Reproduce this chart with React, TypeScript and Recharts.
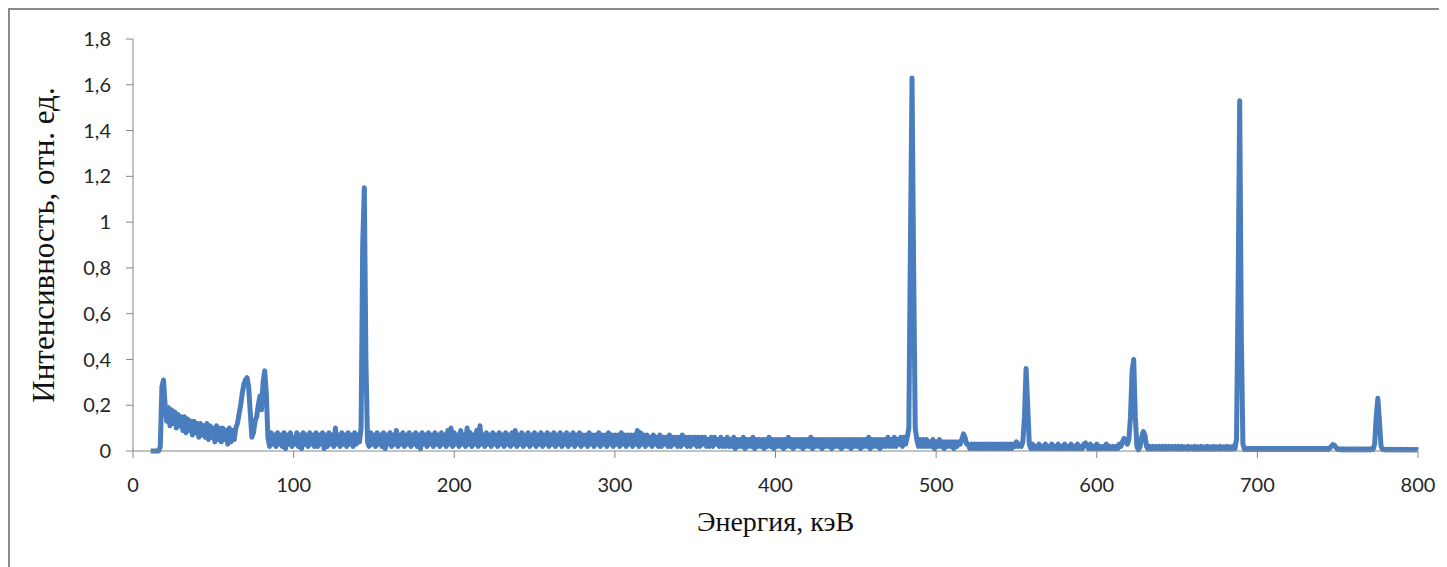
import { Label, Line, LineChart, XAxis, YAxis } from "recharts";

// spectrum sampled on a 1 keV grid starting at 11 keV
const energyStart = 11;
const energyStep = 1;

const intensity = [
  // 11-30
  0, 0, 0, 0, 0, 0, 0.02, 0.28, 0.31, 0.2, 0.13, 0.19, 0.11, 0.18, 0.12, 0.17, 0.1, 0.16, 0.11, 0.15,
  // 31-50
  0.09, 0.15, 0.08, 0.14, 0.09, 0.13, 0.07, 0.13, 0.08, 0.12, 0.06, 0.12, 0.07, 0.11, 0.06, 0.12, 0.05, 0.11, 0.06, 0.1,
  // 51-70
  0.04, 0.11, 0.05, 0.1, 0.04, 0.1, 0.05, 0.09, 0.03, 0.1, 0.04, 0.09, 0.05, 0.1, 0.12, 0.16, 0.2, 0.25, 0.29, 0.31,
  // 71-90
  0.32, 0.28, 0.17, 0.06, 0.08, 0.13, 0.15, 0.2, 0.24, 0.18, 0.3, 0.35, 0.25, 0.06, 0.02, 0.08, 0.03, 0.07, 0.02, 0.08,
  // 91-110
  0.03, 0.07, 0.02, 0.08, 0.01, 0.07, 0.03, 0.08, 0.02, 0.06, 0.03, 0.08, 0.02, 0.07, 0.01, 0.08, 0.03, 0.07, 0.02, 0.08,
  // 111-130
  0.03, 0.07, 0.02, 0.08, 0.02, 0.07, 0.03, 0.08, 0.01, 0.07, 0.02, 0.08, 0.03, 0.07, 0.02, 0.1, 0.03, 0.07, 0.02, 0.08,
  // 131-150
  0.03, 0.07, 0.02, 0.08, 0.03, 0.07, 0.02, 0.08, 0.03, 0.07, 0.04, 0.1, 0.9, 1.15, 0.4, 0.04, 0.02, 0.08, 0.03, 0.07,
  // 151-170
  0.02, 0.08, 0.03, 0.07, 0.02, 0.08, 0.01, 0.07, 0.03, 0.08, 0.02, 0.07, 0.03, 0.09, 0.02, 0.07, 0.03, 0.08, 0.02, 0.07,
  // 171-190
  0.03, 0.08, 0.02, 0.07, 0.03, 0.08, 0.02, 0.07, 0.01, 0.08, 0.03, 0.07, 0.02, 0.08, 0.03, 0.07, 0.02, 0.08, 0.03, 0.07,
  // 191-210
  0.02, 0.08, 0.03, 0.07, 0.02, 0.09, 0.03, 0.1, 0.02, 0.08, 0.03, 0.07, 0.02, 0.09, 0.03, 0.07, 0.02, 0.1, 0.03, 0.08,
  // 211-230
  0.02, 0.07, 0.03, 0.09, 0.02, 0.11, 0.03, 0.07, 0.02, 0.08, 0.03, 0.07, 0.02, 0.08, 0.03, 0.07, 0.02, 0.08, 0.03, 0.07,
  // 231-250
  0.02, 0.08, 0.03, 0.07, 0.02, 0.08, 0.03, 0.09, 0.02, 0.07, 0.03, 0.08, 0.02, 0.07, 0.03, 0.08, 0.02, 0.07, 0.03, 0.08,
  // 251-270
  0.02, 0.07, 0.03, 0.08, 0.02, 0.07, 0.03, 0.08, 0.02, 0.07, 0.03, 0.08, 0.02, 0.07, 0.03, 0.08, 0.02, 0.07, 0.03, 0.08,
  // 271-290
  0.02, 0.07, 0.03, 0.08, 0.02, 0.07, 0.03, 0.08, 0.02, 0.07, 0.03, 0.07, 0.02, 0.08, 0.03, 0.07, 0.02, 0.07, 0.03, 0.08,
  // 291-310
  0.02, 0.07, 0.03, 0.07, 0.02, 0.08, 0.03, 0.07, 0.02, 0.07, 0.03, 0.07, 0.02, 0.08, 0.03, 0.07, 0.02, 0.07, 0.03, 0.07,
  // 311-330
  0.02, 0.07, 0.03, 0.09, 0.02, 0.08, 0.03, 0.07, 0.02, 0.07, 0.03, 0.06, 0.02, 0.07, 0.03, 0.06, 0.02, 0.07, 0.02, 0.06,
  // 331-350
  0.03, 0.06, 0.02, 0.07, 0.02, 0.06, 0.03, 0.06, 0.02, 0.06, 0.02, 0.07, 0.03, 0.06, 0.02, 0.06, 0.02, 0.06, 0.03, 0.06,
  // 351-370
  0.02, 0.06, 0.02, 0.06, 0.03, 0.06, 0.02, 0.05, 0.02, 0.06, 0.02, 0.06, 0.03, 0.05, 0.02, 0.06, 0.02, 0.05, 0.02, 0.06,
  // 371-390
  0.02, 0.05, 0.02, 0.06, 0.01, 0.05, 0.02, 0.05, 0.02, 0.06, 0.01, 0.05, 0.02, 0.05, 0.02, 0.06, 0.01, 0.05, 0.02, 0.05,
  // 391-410
  0.02, 0.05, 0.01, 0.05, 0.02, 0.06, 0.02, 0.05, 0.01, 0.05, 0.02, 0.05, 0.02, 0.05, 0.01, 0.05, 0.02, 0.06, 0.02, 0.05,
  // 411-430
  0.01, 0.05, 0.02, 0.05, 0.02, 0.05, 0.01, 0.05, 0.02, 0.05, 0.02, 0.06, 0.01, 0.05, 0.02, 0.05, 0.02, 0.05, 0.01, 0.05,
  // 431-450
  0.02, 0.05, 0.02, 0.05, 0.01, 0.05, 0.02, 0.05, 0.02, 0.05, 0.01, 0.05, 0.02, 0.05, 0.02, 0.05, 0.01, 0.05, 0.02, 0.05,
  // 451-470
  0.02, 0.05, 0.01, 0.05, 0.02, 0.05, 0.02, 0.06, 0.01, 0.05, 0.02, 0.05, 0.02, 0.05, 0.01, 0.05, 0.02, 0.05, 0.02, 0.06,
  // 471-490
  0.02, 0.05, 0.02, 0.06, 0.02, 0.05, 0.03, 0.06, 0.02, 0.06, 0.03, 0.06, 0.1, 0.9, 1.63, 0.8, 0.1, 0.05, 0.02, 0.05,
  // 491-510
  0.02, 0.05, 0.02, 0.05, 0.02, 0.04, 0.02, 0.05, 0.01, 0.04, 0.02, 0.05, 0.02, 0.04, 0.01, 0.04, 0.02, 0.04, 0.02, 0.04,
  // 511-530
  0.01, 0.04, 0.02, 0.04, 0.03, 0.05, 0.075, 0.06, 0.03, 0.03, 0.01, 0.03, 0.01, 0.03, 0.01, 0.03, 0.01, 0.03, 0.01, 0.03,
  // 531-550
  0.01, 0.03, 0.01, 0.03, 0.01, 0.03, 0.01, 0.03, 0.01, 0.03, 0.01, 0.03, 0.01, 0.03, 0.01, 0.03, 0.01, 0.03, 0.02, 0.04,
  // 551-570
  0.02, 0.03, 0.02, 0.04, 0.15, 0.36, 0.2, 0.03, 0.01, 0.03, 0.01, 0.02, 0.01, 0.03, 0.01, 0.02, 0.01, 0.03, 0.01, 0.02,
  // 571-590
  0.01, 0.03, 0.01, 0.02, 0.01, 0.03, 0.01, 0.02, 0.01, 0.03, 0.01, 0.02, 0.01, 0.03, 0.01, 0.02, 0.01, 0.03, 0.01, 0.02,
  // 591-610
  0.01, 0.03, 0.035, 0.02, 0.01, 0.03, 0.01, 0.02, 0.01, 0.03, 0.01, 0.02, 0.01, 0.02, 0.01, 0.03, 0.01, 0.02, 0.01, 0.02,
  // 611-630
  0.01, 0.02, 0.01, 0.03, 0.02, 0.04, 0.055, 0.04, 0.03, 0.05, 0.15, 0.35, 0.4, 0.15, 0.02, 0.005, 0.02, 0.06, 0.085, 0.07,
  // 631-650
  0.02, 0.008, 0.02, 0.008, 0.02, 0.008, 0.02, 0.008, 0.02, 0.008, 0.02, 0.008, 0.02, 0.008, 0.02, 0.008, 0.02, 0.008, 0.02, 0.008,
  // 651-670
  0.02, 0.008, 0.02, 0.008, 0.018, 0.008, 0.02, 0.008, 0.018, 0.008, 0.02, 0.008, 0.018, 0.008, 0.02, 0.008, 0.018, 0.008, 0.02, 0.008,
  // 671-690
  0.018, 0.008, 0.02, 0.008, 0.018, 0.008, 0.02, 0.008, 0.018, 0.008, 0.02, 0.008, 0.018, 0.008, 0.02, 0.01, 0.05, 0.7, 1.53, 0.5,
  // 691-710
  0.03, 0.006, 0.012, 0.006, 0.012, 0.006, 0.012, 0.006, 0.012, 0.006, 0.012, 0.006, 0.012, 0.006, 0.012, 0.006, 0.012, 0.006, 0.012, 0.006,
  // 711-730
  0.012, 0.006, 0.012, 0.006, 0.012, 0.006, 0.012, 0.006, 0.012, 0.006, 0.012, 0.006, 0.012, 0.006, 0.012, 0.006, 0.012, 0.006, 0.012, 0.006,
  // 731-750
  0.012, 0.006, 0.012, 0.006, 0.012, 0.006, 0.012, 0.006, 0.012, 0.006, 0.012, 0.006, 0.012, 0.006, 0.012, 0.02, 0.028, 0.025, 0.015, 0.006,
  // 751-770
  0.01, 0.005, 0.01, 0.005, 0.01, 0.005, 0.01, 0.005, 0.01, 0.005, 0.01, 0.005, 0.01, 0.005, 0.01, 0.005, 0.01, 0.005, 0.01, 0.005,
  // 771-790
  0.01, 0.006, 0.03, 0.15, 0.23, 0.13, 0.02, 0.006, 0.008, 0.004, 0.008, 0.004, 0.008, 0.004, 0.008, 0.004, 0.008, 0.004, 0.008, 0.004,
  // 791-800
  0.007, 0.004, 0.007, 0.004, 0.007, 0.004, 0.007, 0.004, 0.007, 0.004,
];

const xTicks = [0, 100, 200, 300, 400, 500, 600, 700, 800];
const yTicks = [0, 0.2, 0.4, 0.6, 0.8, 1, 1.2, 1.4, 1.6, 1.8];

const data = intensity.map((v, i) => ({
  energy: energyStart + i * energyStep,
  intensity: v,
}));

const axisColor = "#868686";
const tickStyle = { fill: "#262626", fontFamily: "Lato, sans-serif", fontSize: 20 };
const titleFont = "'Liberation Serif', serif";

const fmt = (v: number) => String(v).replace(".", ",");

export default function App() {
  return (
    <div
      style={{
        width: 1439,
        height: 559,
        borderTop: "2px solid #8a8a8a",
        borderLeft: "2px solid #8a8a8a",
        boxSizing: "border-box",
        background: "#fff",
      }}
    >
      <LineChart
        width={1437}
        height={557}
        data={data}
        margin={{ top: 29, right: 29, bottom: 76, left: 63 }}
      >
        <XAxis
          type="number"
          dataKey="energy"
          domain={[0, 800]}
          ticks={xTicks}
          height={40}
          stroke={axisColor}
          tickSize={7}
          tickMargin={20}
          tick={tickStyle}
          tickLine={{ stroke: axisColor }}
        >
          <Label
            value="Энергия, кэВ"
            position="bottom"
            offset={20}
            style={{ fill: "#111", fontFamily: titleFont, fontSize: 28 }}
          />
        </XAxis>
        <YAxis
          type="number"
          domain={[0, 1.8]}
          ticks={yTicks}
          width={60}
          stroke={axisColor}
          tickSize={7}
          tickMargin={15}
          tick={tickStyle}
          tickFormatter={fmt}
          tickLine={{ stroke: axisColor }}
        >
          <Label
            value="Интенсивность, отн. ед."
            position="center"
            angle={-90}
            dx={-60}
            style={{ fill: "#111", fontFamily: titleFont, fontSize: 31 }}
          />
        </YAxis>
        <Line
          type="linear"
          dataKey="intensity"
          stroke="#4a7dbd"
          strokeWidth={5}
          strokeLinejoin="round"
          dot={false}
          activeDot={false}
          isAnimationActive={false}
        />
      </LineChart>
    </div>
  );
}
